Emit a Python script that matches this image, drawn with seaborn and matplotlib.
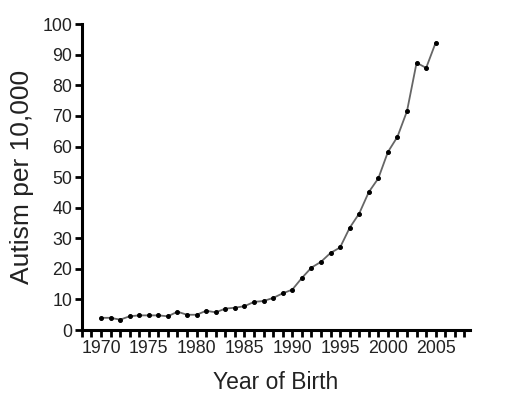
import matplotlib
matplotlib.use("Agg")
import matplotlib.pyplot as plt
from matplotlib.ticker import MultipleLocator
import seaborn as sns
import pandas as pd

# data
years = list(range(1970, 2006))
autism = [4.0, 4.0, 3.4, 4.5, 4.8, 4.8, 4.8, 4.5, 6.0, 5.0,
          5.0, 6.3, 5.8, 7.0, 7.3, 7.8, 9.2, 9.5, 10.5, 12.0,
          13.2, 17.0, 20.4, 22.3, 25.2, 27.0, 33.4, 38.1, 45.1, 49.6,
          58.2, 63.2, 71.6, 87.4, 85.7, 94.0]

df = pd.DataFrame({"year": years, "autism": autism})

sns.set_style("ticks")
plt.rcParams["font.family"] = ["Liberation Sans", "DejaVu Sans"]

fig = plt.figure(figsize=(5.05, 4.03), dpi=100)
ax = fig.add_axes([0.162, 0.181, 0.769, 0.759])

sns.lineplot(data=df, x="year", y="autism", ax=ax, color="#666666",
             linewidth=1.3, marker="o", markersize=2.8,
             markerfacecolor="black", markeredgecolor="black")

ax.set_xlim(1968, 2008.6)
ax.set_ylim(0, 100)
ax.set_xticks(range(1970, 2006, 5))
ax.xaxis.set_minor_locator(MultipleLocator(1))
ax.set_yticks(range(0, 101, 10))

sns.despine(ax=ax)
for s in ["left", "bottom"]:
    ax.spines[s].set_linewidth(2.2)
    ax.spines[s].set_color("black")

ax.tick_params(axis="both", which="both", direction="out", width=2,
               length=5, color="black", labelsize=12.8, labelcolor="#222222", pad=2)
ax.tick_params(axis="x", which="minor", length=5, width=2)

ax.set_xlabel("Year of Birth", fontsize=16.5, color="#222222", labelpad=10)
ax.set_ylabel("Autism per 10,000", fontsize=19, color="#222222", labelpad=6)

fig.savefig("out.png", dpi=100)
